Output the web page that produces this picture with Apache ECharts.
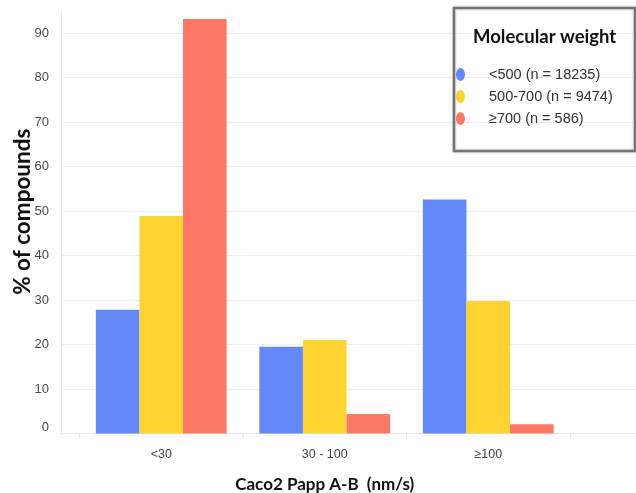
<!DOCTYPE html>
<html>
<head>
<meta charset="utf-8">
<script src="https://cdn.jsdelivr.net/npm/echarts@6/dist/echarts.min.js"></script>
<style>
  html, body { margin: 0; padding: 0; background: #fff; }
  #chart { width: 636px; height: 493px; }
</style>
</head>
<body>
<div id="chart"></div>
<script>
// Caco2 permeability classes on the x axis
const categories = ['<30', '30 - 100', '≥100'];
// Molecular weight groups (legend entries)
const seriesNames = ['<500 (n = 18235)', '500-700 (n = 9474)', '≥700 (n = 586)'];
// Percentage of compounds in each permeability class
const mwUnder500 = [27.8, 19.5, 52.6];
const mw500to700 = [48.9, 21.0, 29.8];
const mwOver700 = [93.2, 4.4, 2.1];
// y axis tick values
const yTicks = [0, 10, 20, 30, 40, 50, 60, 70, 80, 90];

const colors = ['#6389F8', '#FDD330', '#FC7764'];
const seriesData = [mwUnder500, mw500to700, mwOver700];

const chart = echarts.init(document.getElementById('chart'), null, { renderer: 'canvas' });

const yMax = 95.2;

chart.setOption({
  animation: false,
  backgroundColor: '#ffffff',
  title: {
    text: 'Molecular weight',
    left: 473,
    top: 28,
    padding: 0,
    textStyle: { fontFamily: 'Lato', fontWeight: 'bold', fontSize: 18.5, color: '#111' }
  },
  legend: {
    orient: 'vertical',
    left: 456,
    top: 67,
    padding: 0,
    itemGap: 7,
    itemWidth: 9,
    itemHeight: 13,
    symbolKeepAspect: false,
    icon: 'path://M5,0A5,5,0,1,1,5,10A5,5,0,1,1,5,0Z',
    data: seriesNames,
    textStyle: {
      fontFamily: 'Liberation Sans',
      fontSize: 14.5,
      color: '#333',
      padding: [0, 0, 0, 19],
      lineHeight: 15
    }
  },
  graphic: [
    {
      type: 'rect',
      shape: { x: 454, y: 8, width: 181, height: 143 },
      style: {
        fill: 'rgba(255,255,255,0)',
        stroke: '#747474',
        lineWidth: 2.5,
        shadowBlur: 3,
        shadowColor: 'rgba(0,0,0,0.25)'
      },
      z: 10
    }
  ],
  grid: [
    // bars
    { left: 79.5, right: 66, top: 10, bottom: 59.5, outerBoundsMode: 'none', containLabel: false },
    // frame: gridlines and axis lines across the full plot width
    { left: 61, right: 0, top: 10, bottom: 59.5, outerBoundsMode: 'none', containLabel: false }
  ],
  xAxis: [
    {
      type: 'category',
      gridIndex: 0,
      data: categories,
      axisLine: { show: false },
      axisTick: { show: true, length: 4, lineStyle: { color: '#e2e2e2' } },
      axisLabel: {
        margin: 15,
        fontFamily: 'Liberation Sans',
        fontSize: 12.5,
        color: '#444'
      },
      name: 'Caco2 Papp A-B  (nm/s)',
      nameLocation: 'middle',
      nameGap: 43,
      nameTextStyle: { fontFamily: 'Lato', fontWeight: 'bold', fontSize: 17, color: '#111' }
    },
    {
      type: 'value',
      gridIndex: 1,
      min: 0,
      max: 1,
      axisLine: { show: true, lineStyle: { color: '#e6e6e6', width: 1 } },
      axisTick: { show: false },
      axisLabel: { show: false },
      splitLine: { show: false }
    }
  ],
  yAxis: [
    {
      type: 'value',
      gridIndex: 0,
      min: 0,
      max: yMax,
      show: false,
      splitLine: { show: false }
    },
    {
      type: 'value',
      gridIndex: 1,
      min: 0,
      max: yMax,
      axisLine: { show: true, lineStyle: { color: '#ececec' } },
      axisTick: { show: false, customValues: yTicks },
      splitLine: { show: true, lineStyle: { color: '#efefef' } },
      axisLabel: {
        customValues: yTicks,
        margin: 12,
        fontFamily: 'Liberation Sans',
        fontSize: 13,
        color: '#4a4a4a',
        formatter: v => (v === 0 ? '{z|0}' : String(v)),
        rich: { z: { padding: [0, 0, 12, 0], fontFamily: 'Liberation Sans', fontSize: 13, color: '#4a4a4a' } }
      },
      name: '% of compounds',
      nameLocation: 'middle',
      nameGap: 27,
      nameMoveOverlap: false,
      nameRotate: 90,
      nameTextStyle: { fontFamily: 'Lato', fontWeight: 'bold', fontSize: 22.5, color: '#111', padding: [0, 0, 0, 20] }
    }
  ],
  series: seriesNames.map((name, i) => ({
    name: name,
    type: 'bar',
    xAxisIndex: 0,
    yAxisIndex: 0,
    data: seriesData[i],
    barGap: '0%',
    barCategoryGap: '20%',
    itemStyle: { color: colors[i] }
  }))
});
</script>
</body>
</html>
